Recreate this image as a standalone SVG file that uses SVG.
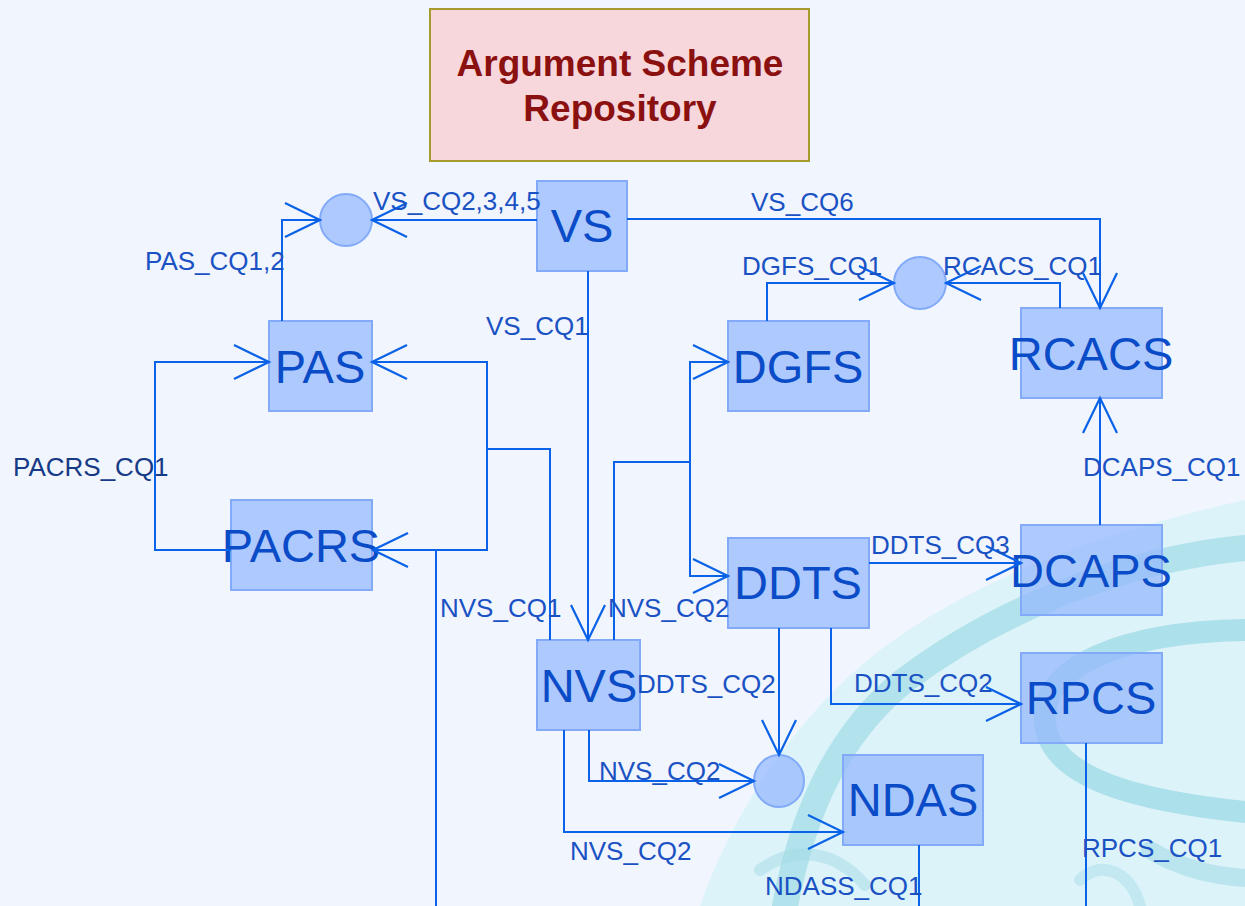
<svg xmlns="http://www.w3.org/2000/svg" width="1245" height="906" viewBox="0 0 1245 906">
  <style>
    .node rect, .node ellipse { fill: rgb(150,185,252); fill-opacity: 0.75; stroke: #82aaf8; stroke-width: 2; }
    .node text { font-family: "Liberation Sans", Arial, sans-serif; font-size: 47px; fill: #0a4bc8; text-anchor: middle; }
    .edge { fill: none; stroke: #0a62e8; stroke-width: 2; }
    .lbl { font-family: "Liberation Sans", Arial, sans-serif; font-size: 26px; fill: #1a52c4; }
    .swoosh { fill: none; stroke: #a3dce6; stroke-linecap: round; }
  </style>
  <defs>
    <marker id="vee" markerUnits="userSpaceOnUse" markerWidth="44" markerHeight="44" viewBox="-40 -22 44 44" refX="0" refY="0" orient="auto" overflow="visible">
      <path d="M-35,-17 L0,0 L-35,17" fill="none" stroke="#0a62e8" stroke-width="2.2"/>
    </marker>
  </defs>

  <!-- page background with the decorative swoosh -->
  <rect x="0" y="0" width="1245" height="906" fill="#f1f5fd"/>
  <g id="backdrop">
    <path d="M700,906 C730,820 790,720 880,650 C980,575 1110,530 1245,500 L1245,906 Z" fill="#ddf3fa"/>
    <path class="swoosh" d="M1245,548 C1120,560 995,612 905,680 C845,728 805,800 785,906" stroke-width="26" opacity="0.75"/>
    <path class="swoosh" d="M1245,630 C1120,632 1040,668 1045,722 C1050,782 1150,802 1245,812" stroke-width="22" opacity="0.85"/>
    <path class="swoosh" d="M1150,850 C1180,868 1215,876 1245,878" stroke-width="18" opacity="0.6"/>
    <path class="swoosh" d="M760,870 C795,845 835,850 865,885" stroke-width="12" opacity="0.5"/>
    <path class="swoosh" d="M1080,880 C1100,860 1130,870 1140,906" stroke-width="12" opacity="0.45"/>
  </g>

  <!-- title -->
  <g id="title">
    <rect x="430" y="9" width="379" height="152" fill="#f7d7dc" stroke="#a89b2e" stroke-width="2"/>
    <text x="620" y="76" font-family="Liberation Sans, Arial, sans-serif" font-size="37" font-weight="bold" fill="#8b1010" text-anchor="middle">Argument Scheme</text>
    <text x="620" y="121" font-family="Liberation Sans, Arial, sans-serif" font-size="37" font-weight="bold" fill="#8b1010" text-anchor="middle">Repository</text>
  </g>

  <!-- scheme nodes -->
  <g id="VS" class="node"><rect x="537" y="181" width="90" height="90"/><text x="582" y="242">VS</text></g>
  <g id="PAS" class="node"><rect x="269" y="321" width="103" height="90"/><text x="320" y="383">PAS</text></g>
  <g id="PACRS" class="node"><rect x="231" y="500" width="141" height="90"/><text x="301" y="562">PACRS</text></g>
  <g id="DGFS" class="node"><rect x="728" y="321" width="141" height="90"/><text x="798" y="383">DGFS</text></g>
  <g id="RCACS" class="node"><rect x="1021" y="308" width="141" height="90"/><text x="1091" y="370">RCACS</text></g>
  <g id="DDTS" class="node"><rect x="728" y="538" width="141" height="90"/><text x="798" y="599">DDTS</text></g>
  <g id="DCAPS" class="node"><rect x="1021" y="525" width="141" height="90"/><text x="1091" y="587">DCAPS</text></g>
  <g id="NVS" class="node"><rect x="537" y="640" width="103" height="90"/><text x="589" y="702">NVS</text></g>
  <g id="RPCS" class="node"><rect x="1021" y="653" width="141" height="90"/><text x="1091" y="714">RPCS</text></g>
  <g id="NDAS" class="node"><rect x="843" y="755" width="140" height="90"/><text x="913" y="816">NDAS</text></g>

  <!-- junction points -->
  <g id="J1" class="node"><ellipse cx="346" cy="220" rx="26" ry="26"/></g>
  <g id="J2" class="node"><ellipse cx="920" cy="283" rx="26" ry="26"/></g>
  <g id="J3" class="node"><ellipse cx="779" cy="781" rx="25" ry="26"/></g>

  <!-- connectors -->
  <g id="connectors">
    <path class="edge" d="M537,220 L372,220" marker-end="url(#vee)"/>
    <path class="edge" d="M282,321 L282,220 L320,220" marker-end="url(#vee)"/>
    <path class="edge" d="M627,219 L1100,219 L1100,308" marker-end="url(#vee)"/>
    <path class="edge" d="M767,321 L767,283 L894,283" marker-end="url(#vee)"/>
    <path class="edge" d="M1060,308 L1060,283 L946,283" marker-end="url(#vee)"/>
    <path class="edge" d="M588,271 L588,640" marker-end="url(#vee)"/>
    <path class="edge" d="M231,550 L155,550 L155,362 L269,362" marker-end="url(#vee)"/>
    <path class="edge" d="M550,640 L550,449 L487,449 L487,362 L372,362" marker-end="url(#vee)"/>
    <path class="edge" d="M487,449 L487,550 L373,550" marker-end="url(#vee)"/>
    <path class="edge" d="M436,906 L436,550"/>
    <path class="edge" d="M614,640 L614,462 L690,462 L690,362 L728,362" marker-end="url(#vee)"/>
    <path class="edge" d="M690,462 L690,576 L728,576" marker-end="url(#vee)"/>
    <path class="edge" d="M869,563 L1021,563" marker-end="url(#vee)"/>
    <path class="edge" d="M1100,525 L1100,398" marker-end="url(#vee)"/>
    <path class="edge" d="M831,628 L831,704 L1021,704" marker-end="url(#vee)"/>
    <path class="edge" d="M779,628 L779,755" marker-end="url(#vee)"/>
    <path class="edge" d="M589,730 L589,781 L754,781" marker-end="url(#vee)"/>
    <path class="edge" d="M564,730 L564,832 L843,832" marker-end="url(#vee)"/>
    <path class="edge" d="M919,845 L919,906"/>
    <path class="edge" d="M1086,743 L1086,906"/>

    <text class="lbl" x="373" y="210">VS_CQ2,3,4,5</text>
    <text class="lbl" x="145" y="270">PAS_CQ1,2</text>
    <text class="lbl" x="751" y="211">VS_CQ6</text>
    <text class="lbl" x="742" y="275">DGFS_CQ1</text>
    <text class="lbl" x="943" y="275">RCACS_CQ1</text>
    <text class="lbl" x="486" y="335">VS_CQ1</text>
    <text class="lbl" x="13" y="476" fill="#163a86" style="fill:#163a86">PACRS_CQ1</text>
    <text class="lbl" x="1083" y="476">DCAPS_CQ1</text>
    <text class="lbl" x="871" y="554">DDTS_CQ3</text>
    <text class="lbl" x="440" y="617">NVS_CQ1</text>
    <text class="lbl" x="608" y="617">NVS_CQ2</text>
    <text class="lbl" x="637" y="693">DDTS_CQ2</text>
    <text class="lbl" x="854" y="692">DDTS_CQ2</text>
    <text class="lbl" x="599" y="780">NVS_CQ2</text>
    <text class="lbl" x="570" y="860">NVS_CQ2</text>
    <text class="lbl" x="1082" y="857">RPCS_CQ1</text>
    <text class="lbl" x="765" y="895">NDASS_CQ1</text>
  </g>
</svg>
